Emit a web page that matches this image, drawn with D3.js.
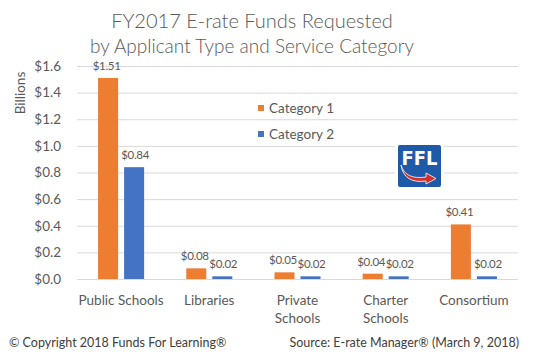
<!DOCTYPE html>
<html>
<head>
<meta charset="utf-8">
<script src="https://cdn.jsdelivr.net/npm/d3@7/dist/d3.min.js"></script>
<style>
  html, body { margin: 0; padding: 0; background: #fff; }
  svg { display: block; font-family: Lato, "Open Sans", sans-serif; }
</style>
</head>
<body>
<svg id="chart" width="547" height="364"></svg>
<script>
const categories = [["Public Schools"], ["Libraries"], ["Private", "Schools"], ["Charter", "Schools"], ["Consortium"]];
const seriesNames = ["Category 1", "Category 2"];
const category1 = [1.51, 0.08, 0.05, 0.04, 0.41];
const category2 = [0.84, 0.02, 0.02, 0.02, 0.02];
const yTicks = [0, 0.2, 0.4, 0.6, 0.8, 1.0, 1.2, 1.4, 1.6];
const colors = ["#ED7D31", "#4472C4"];
const titleLines = ["FY2017 E-rate Funds Requested", "by Applicant Type and Service Category"];

(function () {
const svg = d3.select("#chart");
const textColor = "#595959";
const pLeft = 77, pRight = 518, pTop = 66, pBottom = 279;

const x = d3.scaleBand().domain(d3.range(categories.length)).range([pLeft, pRight]).paddingInner(0.478).paddingOuter(0.239);
const xInner = d3.scaleBand().domain([0, 1]).range([0, x.bandwidth()]).paddingInner(0.23).paddingOuter(0);
const y = d3.scaleLinear().domain([0, 1.6]).range([pBottom, pTop]);

// Title
svg.selectAll("text.title").data(titleLines).enter().append("text")
  .attr("class", "title")
  .attr("x", 252).attr("y", (d, i) => i === 0 ? 28 : 53)
  .attr("text-anchor", "middle").attr("fill", textColor)
  .attr("font-size", (d, i) => i === 0 ? 20 : 19).attr("font-weight", 300).text(d => d);

// Gridlines
const yAxis = d3.axisLeft(y).tickValues(yTicks).tickFormat(d => "$" + d3.format(".1f")(d)).tickSize(-(pRight - pLeft)).tickPadding(16);
const gy = svg.append("g").attr("transform", `translate(${pLeft},0)`).call(yAxis);
gy.select(".domain").remove();
gy.selectAll(".tick line").attr("stroke", "#D9D9D9").attr("stroke-width", 1);
gy.selectAll(".tick text").attr("fill", textColor).attr("font-size", 13.5).attr("font-family", "Lato, sans-serif");

// Y-axis title
svg.append("text").attr("transform", "translate(25,93) rotate(-90)")
  .attr("text-anchor", "middle").attr("fill", textColor).attr("font-size", 13.5).text("Billions");

// Bars
const data = categories.map((c, i) => ({ i, vals: [category1[i], category2[i]] }));
const groups = svg.selectAll("g.grp").data(data).enter().append("g")
  .attr("class", "grp").attr("transform", d => `translate(${x(d.i)},0)`);
groups.selectAll("rect").data(d => d.vals.map((v, s) => ({ v, s }))).enter().append("rect")
  .attr("x", d => xInner(d.s)).attr("width", xInner.bandwidth())
  .attr("y", d => y(d.v)).attr("height", d => y(0) - y(d.v))
  .attr("fill", d => colors[d.s]);
groups.selectAll("text.lbl").data(d => d.vals.map((v, s) => ({ v, s }))).enter().append("text")
  .attr("class", "lbl")
  .attr("x", d => xInner(d.s) + xInner.bandwidth() / 2 + (d.s === 0 ? -1.5 : 1))
  .attr("y", d => y(d.v) - 8)
  .attr("text-anchor", "middle").attr("fill", textColor).attr("font-size", 11.5).attr("letter-spacing", -0.3)
  .text(d => "$" + d3.format(".2f")(d.v));

// X labels
const xl = svg.selectAll("text.xl").data(categories).enter().append("text")
  .attr("class", "xl").attr("text-anchor", "middle").attr("fill", textColor).attr("font-size", 13.5)
  .attr("x", (d, i) => x(i) + x.bandwidth() / 2).attr("y", 305);
xl.selectAll("tspan").data(d => d).enter().append("tspan")
  .attr("x", function () { return d3.select(this.parentNode).attr("x"); })
  .attr("dy", (d, i) => i === 0 ? 0 : 18).text(d => d);

// Legend
const legend = svg.selectAll("g.leg").data(seriesNames).enter().append("g")
  .attr("class", "leg").attr("transform", (d, i) => `translate(258,${105 + i * 26})`);
legend.append("rect").attr("width", 6).attr("height", 6).attr("fill", (d, i) => colors[i]);
legend.append("text").attr("x", 11).attr("y", 8).attr("fill", textColor).attr("font-size", 13.5).text(d => d);

// FFL logo
const logo = svg.append("g").attr("transform", "translate(398,145)");
logo.append("rect").attr("x", -3).attr("y", -3).attr("width", 49).attr("height", 48).attr("fill", "#fff");
logo.append("rect").attr("width", 43).attr("height", 42).attr("rx", 2).attr("fill", "#1E5AA8");
logo.append("text").attr("x", 21.5).attr("y", 20).attr("text-anchor", "middle").attr("fill", "#fff")
  .attr("font-size", 20).attr("font-weight", 900).attr("font-family", "'Liberation Sans Narrow', 'DejaVu Sans Condensed', sans-serif").text("FFL");
logo.append("path").attr("d", "M3,20 C6,30 14,34 28,32 L28,28 L38,33.5 L28,39 L28,36 C14,38 5,33 3,20 Z").attr("fill", "#D0312D").attr("stroke", "#fff").attr("stroke-width", 0.8);

// Footer
svg.append("text").attr("x", 9).attr("y", 347).attr("fill", "#404040").attr("font-size", 12.5).text("© Copyright 2018 Funds For Learning®");
svg.append("text").attr("x", 519).attr("y", 347).attr("text-anchor", "end").attr("fill", "#404040").attr("font-size", 12.5).text("Source: E-rate Manager® (March 9, 2018)");
})();
</script>
</body>
</html>
